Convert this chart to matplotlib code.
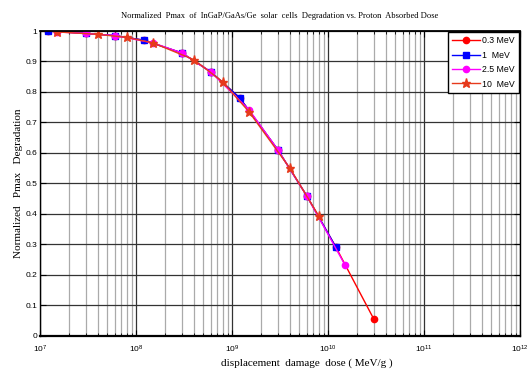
import matplotlib
matplotlib.use("Agg")
import matplotlib.pyplot as plt
from matplotlib.ticker import LogLocator, FixedLocator, NullFormatter
import numpy as np

# Data
x_03 = [1.2e7, 3e7, 6e7, 1.2e8, 3e8, 6e8, 1.2e9, 3e9, 6e9, 1.2e10, 3e10]
y_03 = [1.0, 0.992, 0.985, 0.970, 0.928, 0.866, 0.781, 0.610, 0.459, 0.292, 0.054]

x_1 = [1.2e7, 3e7, 6e7, 1.2e8, 3e8, 6e8, 1.2e9, 3e9, 6e9, 1.2e10]
y_1 = [1.0, 0.992, 0.985, 0.970, 0.928, 0.866, 0.781, 0.610, 0.459, 0.292]

x_25 = [1.5e7, 3e7, 6e7, 1.5e8, 3e8, 6e8, 1.5e9, 3e9, 6e9, 1.5e10]
y_25 = [0.997, 0.992, 0.985, 0.961, 0.928, 0.866, 0.742, 0.610, 0.459, 0.232]

x_10 = [1.5e7, 4e7, 8e7, 1.5e8, 4e8, 8e8, 1.5e9, 4e9, 8e9]
y_10 = [0.997, 0.989, 0.979, 0.961, 0.906, 0.833, 0.735, 0.550, 0.393]

labels = ["0.3 MeV", "1  MeV", "2.5 MeV", "10  MeV"]
title = "Normalized  Pmax  of  InGaP/GaAs/Ge  solar  cells  Degradation vs. Proton  Absorbed Dose"
xlabel = "displacement  damage  dose ( MeV/g )"
ylabel = "Normalized   Pmax   Degradation"

sans = ["Liberation Sans Narrow", "Liberation Sans", "DejaVu Sans"]
serif = ["Liberation Serif", "DejaVu Serif"]

fig = plt.figure(figsize=(5.28, 3.72), dpi=100)
ax = fig.add_axes([40/528, 1 - 335.5/372, 480/528, 304.5/372])

ax.plot(x_03, y_03, color="#ff0000", marker="o", ms=4.5, lw=1.0, label=labels[0])
ax.plot(x_1, y_1, color="#0000ff", marker="s", ms=4.5, lw=1.0, label=labels[1])
ax.plot(x_25, y_25, color="#ff00ff", marker="o", ms=4.5, lw=1.0, label=labels[2])
ax.plot(x_10, y_10, color="#e63a1c", marker="*", ms=6.5, lw=1.0, label=labels[3])

ax.set_xscale("log")
ax.set_xlim(1e7, 1e12)
ax.set_ylim(0, 1)
ax.xaxis.set_major_locator(LogLocator(base=10, numticks=10))
ax.xaxis.set_minor_locator(LogLocator(base=10, subs=np.arange(2, 10), numticks=100))
ax.xaxis.set_minor_formatter(NullFormatter())
ax.yaxis.set_major_locator(FixedLocator(np.arange(0, 1.01, 0.1)))
ax.set_yticklabels(["0"] + ["%.1f" % v for v in np.arange(0.1, 0.95, 0.1)] + ["1"])

ax.grid(True, which="major", color="#333333", lw=0.9)
ax.grid(True, which="minor", axis="x", color="#aaaaaa", lw=0.9)
ax.set_axisbelow(True)

ax.tick_params(which="both", direction="in", top=True, right=True, labelsize=6)
ax.tick_params(axis="x", pad=6)
ax.tick_params(axis="y", pad=2)
ax.tick_params(which="major", length=4)
ax.tick_params(which="minor", length=2.5)
for lab in ax.get_xticklabels() + ax.get_yticklabels():
    lab.set_family(sans)
for s in ax.spines.values():
    s.set_linewidth(1.0)
ax.spines["bottom"].set_linewidth(1.6)
ax.spines["top"].set_linewidth(1.3)

ax.set_title(title, fontsize=6.1, family=serif, pad=9)
ax.set_xlabel(xlabel, fontsize=8, family=serif, labelpad=4)
ax.xaxis.set_label_coords((307 - 40) / 480, -0.075)
ax.xaxis.label.set_verticalalignment("top")
ax.set_ylabel(ylabel, fontsize=8, family=serif, labelpad=2)

leg = ax.legend(loc="upper right", prop={"family": sans, "size": 6.3}, frameon=True,
                fancybox=False, edgecolor="black", framealpha=1, borderaxespad=0.1,
                handlelength=3.2, labelspacing=0.62, handletextpad=0.2, borderpad=0.5)
leg.get_frame().set_linewidth(1.0)

fig.savefig("out.png", dpi=100)
